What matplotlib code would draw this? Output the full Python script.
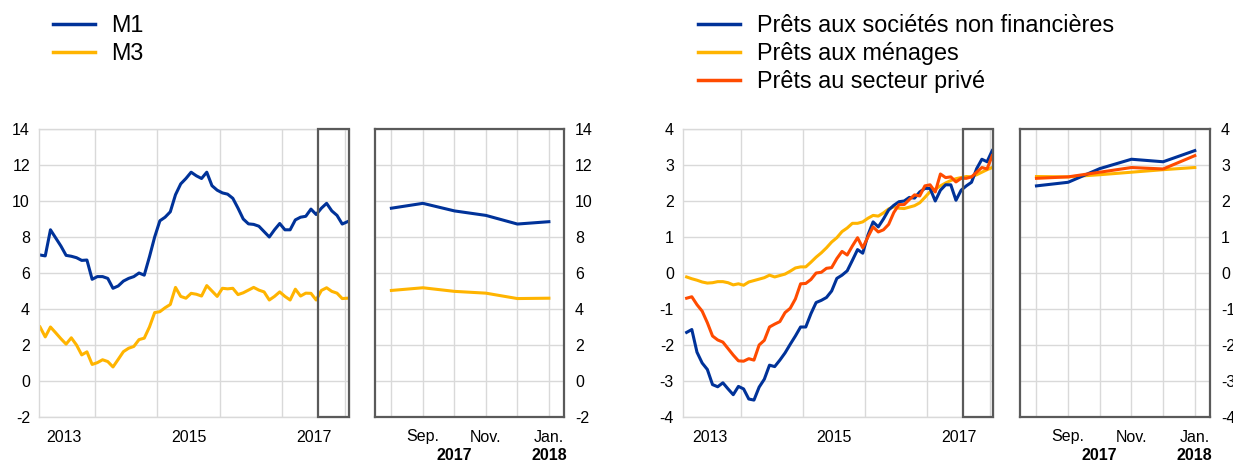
import numpy as np
import matplotlib
matplotlib.use('Agg')
import matplotlib.pyplot as plt
from matplotlib.patches import Rectangle
from matplotlib.transforms import blended_transform_factory

plt.rcParams['font.family'] = ['Liberation Sans', 'DejaVu Sans']

# monthly observations, Feb 2013 - Jan 2018 (annual growth, %)
m1 = [7.0, 6.95, 8.4, 7.95, 7.5, 6.98, 6.93, 6.85, 6.7, 6.72,
      5.65, 5.8, 5.8, 5.7, 5.15, 5.28, 5.55, 5.7, 5.8, 6.0,
      5.88, 6.9, 8.0, 8.9, 9.1, 9.4, 10.35, 10.95, 11.25, 11.6,
      11.4, 11.25, 11.6, 10.85, 10.6, 10.45, 10.38, 10.15, 9.6, 9.0,
      8.73, 8.7, 8.6, 8.3, 8.0, 8.4, 8.75, 8.4, 8.4, 8.95,
      9.1, 9.15, 9.55, 9.25, 9.6, 9.87, 9.45, 9.2, 8.72, 8.85]
m3 = [3.0, 2.45, 3.0, 2.68, 2.35, 2.05, 2.4, 2.0, 1.45, 1.62,
      0.92, 1.02, 1.18, 1.08, 0.78, 1.2, 1.63, 1.82, 1.92, 2.3,
      2.38, 3.0, 3.8, 3.85, 4.07, 4.25, 5.2, 4.7, 4.6, 4.87,
      4.82, 4.72, 5.3, 5.0, 4.7, 5.15, 5.12, 5.15, 4.8, 4.9,
      5.05, 5.2, 5.05, 4.95, 4.5, 4.7, 4.95, 4.7, 4.5, 5.1,
      4.72, 4.88, 4.87, 4.5, 5.03, 5.18, 4.98, 4.88, 4.58, 4.6]

nfc = [-1.65, -1.57, -2.2, -2.5, -2.68, -3.1, -3.16, -3.05, -3.22, -3.38,
       -3.15, -3.22, -3.5, -3.53, -3.17, -2.95, -2.56, -2.6, -2.42, -2.22,
       -1.98, -1.75, -1.5, -1.5, -1.13, -0.82, -0.76, -0.68, -0.5, -0.15,
       -0.06, 0.06, 0.35, 0.65, 0.55, 1.05, 1.42, 1.28, 1.5, 1.75,
       1.88, 1.98, 2.0, 2.1, 2.08, 2.25, 2.35, 2.35, 2.0, 2.3,
       2.45, 2.45, 2.02, 2.3, 2.42, 2.52, 2.9, 3.16, 3.09, 3.4]
households = [-0.11, -0.16, -0.2, -0.25, -0.28, -0.27, -0.24, -0.24, -0.27, -0.33,
              -0.3, -0.34, -0.25, -0.21, -0.17, -0.13, -0.06, -0.11, -0.07, -0.03,
              0.05, 0.14, 0.17, 0.17, 0.3, 0.44, 0.56, 0.7, 0.86, 0.98,
              1.15, 1.25, 1.38, 1.38, 1.42, 1.52, 1.6, 1.58, 1.67, 1.78,
              1.84, 1.8, 1.79, 1.83, 1.87, 1.95, 2.1, 2.26, 2.33, 2.42,
              2.5, 2.57, 2.62, 2.65, 2.68, 2.67, 2.73, 2.8, 2.87, 2.93]
private = [-0.7, -0.66, -0.88, -1.06, -1.38, -1.75, -1.86, -1.92, -2.1, -2.28,
           -2.44, -2.45, -2.38, -2.42, -2.0, -1.87, -1.5, -1.42, -1.35, -1.1,
           -0.98, -0.72, -0.3, -0.29, -0.18, 0.0, 0.02, 0.13, 0.15, 0.4,
           0.6, 0.5, 0.75, 0.98, 0.7, 1.0, 1.28, 1.14, 1.2, 1.35,
           1.68, 1.9, 1.9, 2.04, 2.17, 2.14, 2.42, 2.45, 2.25, 2.75,
           2.65, 2.67, 2.53, 2.63, 2.63, 2.67, 2.8, 2.93, 2.89, 3.26]

year_labels = ['2013', '2015', '2017']
zoom_labels = ['', 'Sep.', '', 'Nov.', '', 'Jan.']
zoom_years = ['2017', '2018']

BLUE = '#003299'
YELLOW = '#ffb400'
ORANGE = '#ff4b00'
GRID = '#d9d9d9'
FRAME = '#5a5a5a'

n = len(m1)
x = np.arange(n)
xz = np.arange(6)
year_lines = 10.5 + 12 * np.arange(5)
year_mid = [4.5, 28.5, 52.5]
box_start = 53.4

fig = plt.figure(figsize=(12.33, 4.62), dpi=100)
H = 462.0
W = 1233.0
bot = 1 - 417 / H
hgt = (417 - 129) / H
ax1 = fig.add_axes([39 / W, bot, 310 / W, hgt])
ax2 = fig.add_axes([375 / W, bot, 189 / W, hgt])
ax3 = fig.add_axes([683 / W, bot, 310 / W, hgt])
ax4 = fig.add_axes([1020 / W, bot, 190 / W, hgt])


def style_main(ax, xlim, ylim, yticks):
    ax.set_xlim(*xlim)
    ax.set_ylim(*ylim)
    ax.set_yticks(yticks)
    ax.set_yticklabels([f'{v:g}' for v in yticks])
    ax.set_xticks(year_mid)
    ax.set_xticklabels(year_labels)
    ax.set_xticks(year_lines, minor=True)
    ax.grid(axis='y', which='major', color=GRID, lw=1)
    ax.grid(axis='x', which='minor', color=GRID, lw=1)
    ax.tick_params(which='both', length=0, labelsize=11.5)
    ax.tick_params(axis='x', pad=9)
    ax.tick_params(axis='y', pad=6.5)
    for s in ax.spines.values():
        s.set_color(GRID)
        s.set_linewidth(1)
    ax.set_axisbelow(True)
    tr = blended_transform_factory(ax.transData, ax.transAxes)
    ax.add_patch(Rectangle((box_start, 0), xlim[1] - box_start, 1, transform=tr,
                           fill=False, ec=FRAME, lw=1.6, clip_on=False, zorder=5))


def style_zoom(ax, ylim, yticks):
    ax.set_xlim(-0.52, 5.48)
    ax.set_ylim(*ylim)
    ax.set_yticks(yticks)
    ax.set_yticklabels([f'{v:g}' for v in yticks])
    ax.set_xticks(xz)
    ax.set_xticklabels(zoom_labels)
    ax.yaxis.tick_right()
    ax.grid(True, color=GRID, lw=1)
    ax.tick_params(length=0, labelsize=11.5)
    ax.tick_params(axis='x', pad=9)
    ax.tick_params(axis='y', pad=8)
    for s in ax.spines.values():
        s.set_color(FRAME)
        s.set_linewidth(1.6)
    ax.set_axisbelow(True)
    tr = blended_transform_factory(ax.transData, ax.transAxes)
    ax.text(2, -0.132, zoom_years[0], transform=tr, ha='center', va='center',
            fontsize=11.5, fontweight='bold')
    ax.text(5, -0.132, zoom_years[1], transform=tr, ha='center', va='center',
            fontsize=11.5, fontweight='bold')


# money aggregates
ax1.plot(x, m1, color=BLUE, lw=2.2)
ax1.plot(x, m3, color=YELLOW, lw=2.2)
style_main(ax1, (-0.2, 59.3), (-2, 14), list(range(-2, 15, 2)))

ax2.plot(xz, m1[-6:], color=BLUE, lw=2.2)
ax2.plot(xz, m3[-6:], color=YELLOW, lw=2.2)
style_zoom(ax2, (-2, 14), list(range(-2, 15, 2)))

# loans
ax3.plot(x, households, color=YELLOW, lw=2.2)
ax3.plot(x, nfc, color=BLUE, lw=2.2)
ax3.plot(x, private, color=ORANGE, lw=2.2)
style_main(ax3, (-0.7, 59.15), (-4, 4), list(range(-4, 5)))

ax4.plot(xz, households[-6:], color=YELLOW, lw=2.2)
ax4.plot(xz, nfc[-6:], color=BLUE, lw=2.2)
ax4.plot(xz, private[-6:], color=ORANGE, lw=2.2)
style_zoom(ax4, (-4, 4), list(range(-4, 5)))

# legends
h1 = [plt.Line2D([], [], color=BLUE, lw=2.5), plt.Line2D([], [], color=YELLOW, lw=2.5)]
fig.legend(h1, ['M1', 'M3'], loc='upper left', bbox_to_anchor=(53 / W, 1 - 14 / H),
           frameon=False, fontsize=16.8, borderpad=0, borderaxespad=0,
           handlelength=1.8, handletextpad=0.7, labelspacing=0.22)

h2 = [plt.Line2D([], [], color=BLUE, lw=2.5), plt.Line2D([], [], color=YELLOW, lw=2.5),
      plt.Line2D([], [], color=ORANGE, lw=2.5)]
fig.legend(h2, ['Prêts aux sociétés non financières', 'Prêts aux ménages',
                'Prêts au secteur privé'],
           loc='upper left', bbox_to_anchor=(698 / W, 1 - 14 / H),
           frameon=False, fontsize=16.8, borderpad=0, borderaxespad=0,
           handlelength=1.8, handletextpad=0.72, labelspacing=0.22)

fig.savefig('out.png', dpi=100)
